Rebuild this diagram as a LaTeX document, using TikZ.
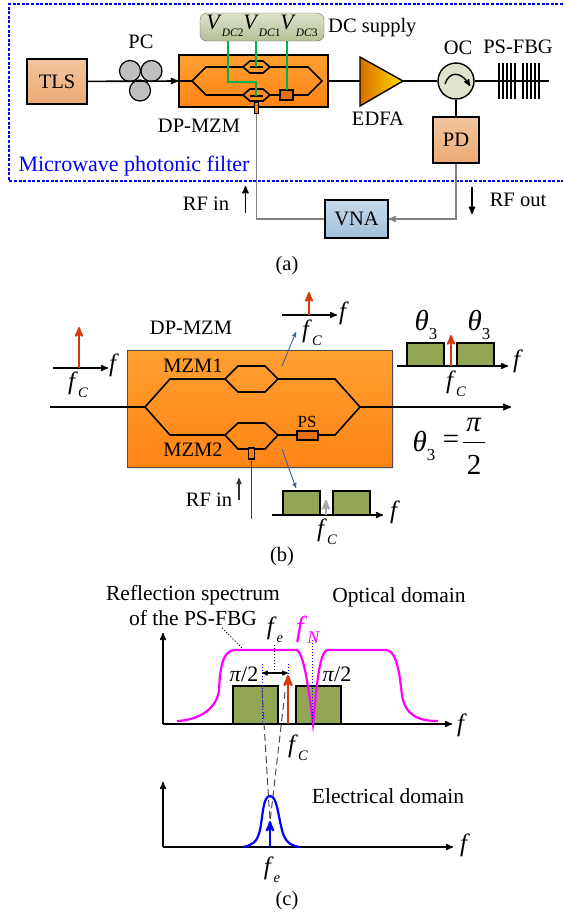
\documentclass[tikz,border=0pt]{standalone}
\usepackage{graphicx}
\usepackage{fontspec}
\setmainfont{Liberation Serif}
\usetikzlibrary{arrows,positioning,shadows}
\newcommand{\symb}[2]{\textit{#1}\raisebox{-.3em}{\scalebox{.58}{\textit{#2}}}}
\newcommand{\volt}[1]{\textit{V}\raisebox{-.3em}{\scalebox{.52}{\textit{DC}#1}}}
\newcommand{\thet}{\textit{θ}\raisebox{-.3em}{\scalebox{.58}{3}}}
\definecolor{boxgreen}{RGB}{147,166,84}
\definecolor{optred}{RGB}{214,58,10}
\definecolor{wire}{RGB}{128,128,128}
\definecolor{dcgreen}{RGB}{0,176,80}
\definecolor{tantop}{RGB}{242,198,160}
\definecolor{tanbot}{RGB}{234,170,115}
\definecolor{mzmtop}{RGB}{255,160,50}
\definecolor{mzmbot}{RGB}{255,132,20}
\definecolor{dctop}{RGB}{222,228,204}
\definecolor{dcbot}{RGB}{180,192,146}
\definecolor{vnatop}{RGB}{198,218,236}
\definecolor{vnabot}{RGB}{160,192,220}
\definecolor{psfill}{RGB}{228,112,16}
\definecolor{thinblue}{RGB}{64,96,160}
\definecolor{specpink}{RGB}{255,0,255}
\tikzset{
  lbl/.style={inner sep=0pt,font=\fontsize{20.5}{23}\selectfont},
  biglbl/.style={inner sep=0pt,font=\fontsize{21.5}{25}\selectfont},
  fsym/.style={inner sep=0pt,font=\fontsize{25}{28}\selectfont},
  thsym/.style={inner sep=0pt,font=\fontsize{29}{32}\selectfont},
  voltlbl/.style={inner sep=0pt,font=\fontsize{22}{24}\selectfont},
  sqbox/.style={draw=black,line width=1.5pt,inner sep=0pt,font=\fontsize{20.5}{23}\selectfont},
  tanbox/.style={sqbox,top color=tantop,bottom color=tanbot},
  mzmbox/.style={draw=black,top color=mzmtop,bottom color=mzmbot},
  pcdisc/.style={draw=black,fill=black!25,circle,line width=1.2pt,minimum size=21pt,inner sep=0pt},
  sideband/.style={draw=black,line width=1.4pt,fill=boxgreen,inner sep=0pt},
  guide/.style={line width=1.6pt},
  carrier/.style={->,line width=2.2pt,draw=optred},
  axis/.style={->,line width=1.5pt}
}
\begin{document}
\begin{tikzpicture}[>=stealth',x=1pt,y=-1pt]
\useasboundingbox (0,0) rectangle (563,916);
% part (a)
\draw[blue,line width=1.4pt,dash pattern=on 3pt off 1.6pt] (563,4) -- (9,4) -- (9,181) -- (563,181);
\node[lbl,blue,font=\fontsize{22}{25}\selectfont] (mpf) at (134,166) {Microwave photonic filter};
\node[tanbox,minimum width=60pt,minimum height=45pt] (tls) at (57,81.5) {TLS};
\node[pcdisc] (pc1) at (130,71) {};
\node[pcdisc] (pc2) at (151.5,71) {};
\node[pcdisc] (pc3) at (140,90.5) {};
\node[lbl] (pclbl) at (141,42) {PC};
\node[mzmbox,line width=1.5pt,minimum width=149pt,minimum height=52pt] (mzm) at (253.5,81) {};
\node[lbl] (mzmlbl) at (199,126) {DP-MZM};
\draw[->,guide] (tls) -- (mzm.west);
\coordinate (in1) at (192,81);
\coordinate (out1) at (322,81);
\draw[guide] (mzm.west) -- (in1);
\draw[guide] (in1) -- (206,67) -- (243,67) -- (250,61) -- (263,61) -- (270,67) -- (263,73) -- (250,73) -- (243,67);
\draw[guide] (in1) -- (206,95) -- (243,95) -- (250,89) -- (263,89) -- (270,95) -- (263,101) -- (250,101) -- (243,95);
\draw[guide] (270,67) -- (308,67) -- (out1) -- (308,95) -- (270,95);
\draw[guide] (250,67) -- (263,67);
\draw[guide] (250,96) -- (263,96);
\node[draw=black,fill=psfill,line width=1.4pt,minimum width=13pt,minimum height=10pt,inner sep=0pt] (ps1) at (286.5,95) {};
\node[draw=black,fill=orange,line width=1pt,minimum width=4pt,minimum height=11pt,inner sep=0pt] (port1) at (256.5,107.5) {};
\node[draw=black!60,rounded corners=7pt,top color=dctop,bottom color=dcbot,minimum width=124pt,minimum height=28pt] (dc) at (262,27) {};
\node[voltlbl] (vdc2) at (225,26) {\volt{2}};
\node[voltlbl] (vdc1) at (262,26) {\volt{1}};
\node[voltlbl] (vdc3) at (299,26) {\volt{3}};
\node[lbl,anchor=west] (dclbl) at (328,28) {DC supply};
\draw[dcgreen,line width=1.5pt] (228,41) -- (228,82) -- (256,82) -- (256,96);
\draw[dcgreen,line width=1.5pt] (256,41) -- (256,67);
\draw[dcgreen,line width=1.5pt] (287,41) -- (287,90);
\draw[left color=orange!85!black,right color=yellow!75!orange,line width=1.4pt] (360,57) -- (403,81) -- (360,106) -- cycle;
\coordinate (edfal) at (360,81);
\coordinate (edfar) at (403,81);
\node[lbl] (edfalbl) at (378,119) {EDFA};
\draw[guide] (mzm.east) -- (edfal);
\node[draw=black,fill=dctop,circle,line width=1.4pt,minimum size=36pt,inner sep=0pt] (oc) at (456,81) {};
\draw[guide] (edfar) -- (oc);
\draw[->,line width=1.4pt] (445,84) .. controls (449,71) and (461,71) .. (470,86);
\node[lbl] (oclbl) at (458,48) {OC};
\node[lbl] (fbglbl) at (518,47) {PS-FBG};
\coordinate (fbgend) at (549,81);
\draw[guide] (oc) -- (fbgend);
\foreach \x in {499,503,507,511,515,523,527,531,535,539}
  \draw[line width=2pt] (\x,63) -- (\x,99);
\node[tanbox,minimum width=46pt,minimum height=46pt] (pd) at (456,140) {PD};
\draw[guide] (oc) -- (pd);
\node[sqbox,top color=vnatop,bottom color=vnabot,minimum width=63pt,minimum height=38pt] (vna) at (356.5,219) {VNA};
\coordinate (corner1) at (456,219);
\coordinate (corner2) at (256.5,219);
\draw[->,wire,line width=1.5pt] (pd) -- (corner1) -- (vna);
\draw[wire,line width=1.5pt] (port1) -- (corner2) -- (vna);
\node[lbl] (rfin1) at (206,204) {RF in};
\coordinate (rfa) at (245.5,213);
\coordinate (rfb) at (245.5,186);
\draw[->,line width=1.6pt] (rfa) -- (rfb);
\node[lbl] (rfout) at (518,200) {RF out};
\coordinate (rfc) at (472,187);
\coordinate (rfd) at (472,214);
\draw[->,line width=1.6pt] (rfc) -- (rfd);
\node[lbl] (capa) at (287,266) {(a)};
% part (b)
\node[mzmbox,draw=black!70,line width=.8pt,drop shadow={opacity=.2,shadow xshift=2pt,shadow yshift=-2pt},minimum width=265pt,minimum height=117pt] (mzmb) at (259.5,408.5) {};
\node[lbl] (mzmblbl) at (191,328) {DP-MZM};
\node[lbl] (m1) at (193,366) {MZM1};
\node[lbl] (m2) at (193,450) {MZM2};
\coordinate (ina) at (50,407);
\coordinate (inb) at (145,407);
\coordinate (outa) at (360,407);
\coordinate (outb) at (511,407);
\draw[guide,line width=1.8pt] (ina) -- (inb);
\draw[->,guide,line width=1.8pt] (outa) -- (outb);
\draw[guide] (inb) -- (170,379) -- (225,379) -- (238,366) -- (265,366) -- (278,379) -- (265,392) -- (238,392) -- (225,379);
\draw[guide] (inb) -- (170,435) -- (225,435) -- (238,423) -- (265,423) -- (278,435) -- (265,449) -- (238,449) -- (225,435);
\draw[guide] (278,379) -- (335,379) -- (outa) -- (335,435) -- (278,435);
\node[draw=black,fill=psfill,line width=1.4pt,minimum width=21pt,minimum height=9pt,inner sep=0pt] (ps2) at (307.5,435.5) {};
\node[inner sep=0pt,font=\fontsize{17}{19}\selectfont] (pslbl) at (307,422) {PS};
\node[draw=black,fill=orange,line width=1.2pt,minimum width=6pt,minimum height=11pt,inner sep=0pt] (port2) at (251.5,453.5) {};
\coordinate (rfend) at (251.5,519);
\draw[line width=1.5pt,black!75] (port2) -- (rfend);
\node[lbl] (rfin2) at (209,500) {RF in};
\coordinate (rfe) at (239,500);
\coordinate (rff) at (239,478);
\draw[->,line width=1.2pt,black!80] (rfe) -- (rff);
% spectrum at the input
\coordinate (a1) at (53,368);
\coordinate (a2) at (108,368);
\draw[axis] (a1) -- (a2);
\draw[carrier] (79,368) -- (79,327);
\node[fsym] (f1) at (114,365) {\textit{f}};
\node[fsym] (fc1) at (78,385) {\symb{f}{C}};
% spectrum of MZM1
\coordinate (b1) at (282,315);
\coordinate (b2) at (337,315);
\draw[axis] (b1) -- (b2);
\draw[carrier] (309,315) -- (309,292);
\node[fsym] (f2) at (344,313) {\textit{f}};
\node[fsym] (fc2) at (312,333) {\symb{f}{C}};
\draw[->,line width=.9pt,thinblue] (282,366) -- (296,332);
% spectrum at the output
\coordinate (c1) at (397,366);
\coordinate (c2) at (508,366);
\draw[axis] (c1) -- (c2);
\node[sideband,minimum width=37pt,minimum height=23pt] (s1) at (425.5,354.5) {};
\node[sideband,minimum width=37pt,minimum height=23pt] (s2) at (475.5,354.5) {};
\draw[carrier] (451,366) -- (451,335);
\node[thsym] (th1) at (426,325) {\thet};
\node[thsym] (th2) at (479,325) {\thet};
\node[fsym] (f3) at (518,361) {\textit{f}};
\node[fsym] (fc3) at (456,384) {\symb{f}{C}};
\node[thsym] (theta) at (424,446) {\thet};
\node[thsym] (eq) at (451,442) {=};
\node[thsym] (num) at (474,425) {\textit{π}};
\node[thsym] (den) at (474,465) {2};
\coordinate (barl) at (463,442.5);
\coordinate (barr) at (485,442.5);
\draw[line width=1pt] (barl) -- (barr);
% spectrum of MZM2
\coordinate (d1) at (272,515);
\coordinate (d2) at (383,515);
\draw[axis] (d1) -- (d2);
\node[sideband,minimum width=37pt,minimum height=24pt] (s3) at (301.5,503) {};
\node[sideband,minimum width=37pt,minimum height=24pt] (s4) at (351.5,503) {};
\draw[->,line width=2.2pt,black!35] (326,515) -- (326,500);
\node[fsym] (f4) at (395,512) {\textit{f}};
\node[fsym] (fc4) at (327,532) {\symb{f}{C}};
\draw[->,line width=.9pt,thinblue] (282,449) -- (296,488);
\node[lbl] (capb) at (282,557) {(b)};
% part (c)
\coordinate (o1) at (163,724);
\coordinate (o2) at (163,633);
\coordinate (o3) at (452,724);
\draw[axis] (o1) -- (o2);
\node[sideband,minimum width=45pt,minimum height=38pt] (s5) at (255.5,705) {};
\node[sideband,minimum width=45pt,minimum height=38pt] (s6) at (318.5,705) {};
\draw[axis] (o1) -- (o3);
\draw[carrier,line width=2.6pt] (288,724) -- (288,675);
\draw[specpink,line width=2.2pt] (177,721) .. controls (200,720) and (217,708) .. (219,690) .. controls (220,670) and (222,650) .. (235,650) -- (297,650) .. controls (305,655) and (310,700) .. (313,724) .. controls (316,700) and (318,650) .. (328,650) -- (387,650) .. controls (398,652) and (400,680) .. (402,695) .. controls (405,715) and (418,721) .. (438,721);
\draw[blue,dotted,line width=1pt] (262,664) -- (262,724);
\draw[blue,dotted,line width=1pt] (288,664) -- (288,675);
\draw[blue,dotted,line width=1pt] (312,640) -- (312,724);
\draw[dotted,line width=1pt] (274,645) -- (274,672);
\draw[dotted,line width=1pt] (222,628) -- (242,648);
\draw[<->,line width=1.1pt] (262,673) -- (288,673);
\draw[black!70,line width=1pt,dash pattern=on 7pt off 4pt] (262,690) -- (270,822);
\draw[black!70,line width=1pt,dash pattern=on 7pt off 4pt] (285,692) -- (270,822);
\node[biglbl,align=center] (refl) at (193,606) {Reflection spectrum\\of the PS-FBG};
\node[biglbl] (optlbl) at (399,597) {Optical domain};
\node[fsym] (fe1) at (275,630) {\symb{f}{e}};
\node[inner sep=0pt,font=\fontsize{29}{32}\selectfont,specpink] (fn) at (308,630) {\textit{f}\raisebox{-.25em}{\scalebox{.62}{\textit{N}}}};
\node[lbl,font=\fontsize{22}{25}\selectfont] (pi1) at (244,674) {\textit{π}/2};
\node[lbl,font=\fontsize{22}{25}\selectfont] (pi2) at (337,674) {\textit{π}/2};
\node[fsym] (f5) at (462,725) {\textit{f}};
\node[fsym] (fc5) at (298,748) {\symb{f}{C}};
% electrical spectrum
\coordinate (e1) at (163,847);
\coordinate (e2) at (163,782);
\coordinate (e3) at (453,847);
\draw[axis] (e1) -- (e2);
\draw[axis] (e1) -- (e3);
\draw[blue,line width=2.2pt] (243,847) .. controls (252,845) and (257,843) .. (260,830) .. controls (263,815) and (263,796) .. (270,796) .. controls (277,796) and (278,815) .. (282,830) .. controls (285,842) and (290,845) .. (299,847);
\draw[->,blue,line width=2.4pt] (270,847) -- (270,821);
\node[biglbl] (ellbl) at (388,796) {Electrical domain};
\node[fsym] (f6) at (465,845) {\textit{f}};
\node[fsym] (fe2) at (272,870) {\symb{f}{e}};
\node[lbl] (capc) at (287,901) {(c)};
\end{tikzpicture}
\end{document}
